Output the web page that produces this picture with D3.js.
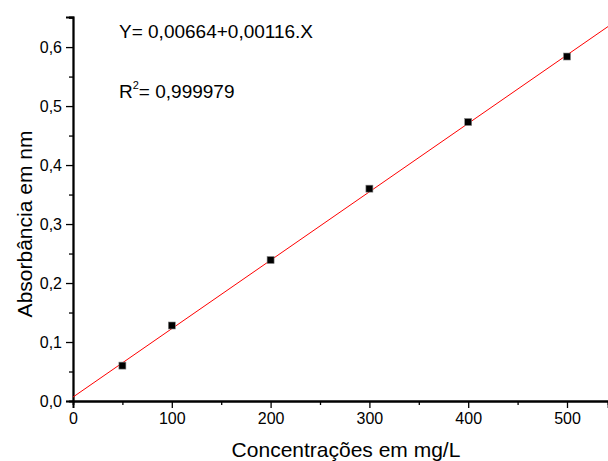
<!DOCTYPE html>
<html>
<head>
<meta charset="utf-8">
<script src="https://cdn.jsdelivr.net/npm/d3@7"></script>
<style>
body { margin: 0; background: #fff; }
text { font-family: "Liberation Sans", Arial, sans-serif; fill: #000; }
</style>
</head>
<body>
<svg id="chart" width="608" height="461"></svg>
<script>
// measured points
const concentrations = [50, 100, 200, 300, 400, 500];
const absorbances = [0.060, 0.128, 0.239, 0.360, 0.473, 0.584];
const fitIntercept = 0.00664;
const fitSlope = 0.00116;
const xTicks = [0, 100, 200, 300, 400, 500];
const yTicks = [0, 0.1, 0.2, 0.3, 0.4, 0.5, 0.6];

const svg = d3.select("#chart");
const x = d3.scaleLinear().domain([0, 541.5]).range([73, 608]);
const y = d3.scaleLinear().domain([0, 0.651]).range([401, 17]);
const fmt = d => d3.format(".1f")(d).replace(".", ",");

// axes
svg.append("g").attr("transform", "translate(0,401)")
  .call(d3.axisBottom(x).tickValues(xTicks).tickSize(7).tickPadding(5).tickFormat(d3.format("d")));
svg.append("g").attr("transform", "translate(0,401)")
  .call(d3.axisBottom(x).tickValues(d3.range(50, 541, 100)).tickSize(4).tickFormat(""));
svg.append("g").attr("transform", "translate(73,0)")
  .call(d3.axisLeft(y).tickValues(yTicks).tickSize(7).tickPadding(4).tickFormat(fmt));
svg.append("g").attr("transform", "translate(73,0)")
  .call(d3.axisLeft(y).tickValues([0.05, 0.15, 0.25, 0.35, 0.45, 0.55, 0.65]).tickSize(4).tickFormat(""));

svg.selectAll(".domain").attr("stroke", "#000").attr("stroke-width", 1.8);
svg.selectAll(".tick line").attr("stroke", "#000").attr("stroke-width", 1.3);
svg.selectAll(".tick text").attr("font-size", 16).attr("font-family", "Liberation Sans, Arial, sans-serif");

// fit line
const xMax = x.domain()[1];
svg.append("line")
  .attr("x1", x(0)).attr("y1", y(fitIntercept))
  .attr("x2", x(xMax)).attr("y2", y(fitIntercept + fitSlope * xMax))
  .attr("stroke", "#ff0000").attr("stroke-width", 1);

// points
svg.selectAll("rect.pt").data(concentrations).enter().append("rect")
  .attr("class", "pt")
  .attr("x", (d) => x(d) - 3.5)
  .attr("y", (d, i) => y(absorbances[i]) - 3.5)
  .attr("width", 7).attr("height", 7)
  .attr("fill", "#000").attr("stroke", "#888").attr("stroke-width", 0.6);

// annotations
svg.append("text").attr("x", 119).attr("y", 38).attr("font-size", 19)
  .text("Y= 0,00664+0,00116.X");
const r2 = svg.append("text").attr("x", 119).attr("y", 98).attr("font-size", 19);
r2.append("tspan").text("R");
r2.append("tspan").attr("font-size", 11).attr("dy", -9).text("2");
r2.append("tspan").attr("dy", 9).text("= 0,999979");

// axis titles
svg.append("text").attr("x", 346).attr("y", 457).attr("text-anchor", "middle")
  .attr("font-size", 21).text("Concentrações em mg/L");
svg.append("text").attr("transform", "translate(32,224) rotate(-90)")
  .attr("text-anchor", "middle").attr("font-size", 21).text("Absorbância em nm");
</script>
</body>
</html>
